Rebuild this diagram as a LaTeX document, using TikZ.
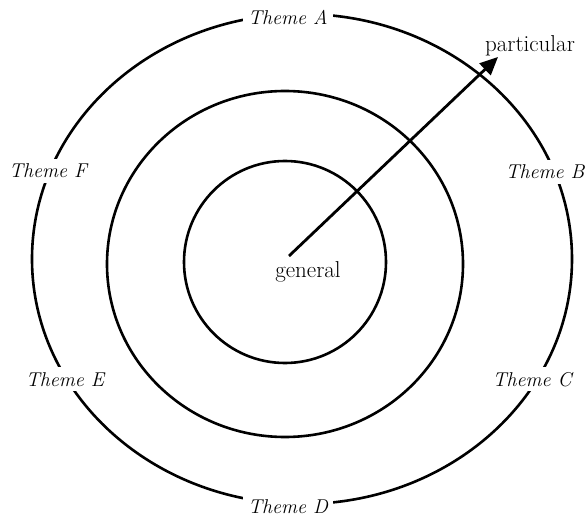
\documentclass[tikz,border=0pt]{standalone}
\usetikzlibrary{arrows.meta}
\begin{document}
\begin{tikzpicture}[x=1pt,y=-1pt,
  ring/.style={line width=2.6pt},
  theme/.style={fill=white, inner sep=5pt, anchor=base, font=\fontsize{20}{24}\selectfont\itshape},
  lbl/.style={anchor=base, inner sep=0pt, font=\fontsize{23}{27}\selectfont},
  pointer/.style={line width=2.8pt, -{Triangle[length=18pt,width=16pt]}}]
\useasboundingbox (0,0) rectangle (587,516);
\draw[ring] (285,262) circle [radius=101];
\draw[ring] (285,264) circle [x radius=178, y radius=173];
\draw[ring] (302,259) circle [x radius=270, y radius=245];
\node[theme] (A) at (288,25) {Theme A};
\node[theme] (B) at (545,179) {Theme B};
\node[theme] (C) at (532,386) {Theme C};
\node[theme] (D) at (288,513) {Theme D};
\node[theme] (E) at (65,386) {Theme E};
\node[theme] (F) at (48,178) {Theme F};
\coordinate (tail) at (289,256);
\coordinate (tip) at (498,57);
\draw[pointer] (tail) -- (tip);
\node[lbl] (gen) at (308,277) {general};
\node[lbl] (part) at (530,52) {particular};
\end{tikzpicture}
\end{document}
